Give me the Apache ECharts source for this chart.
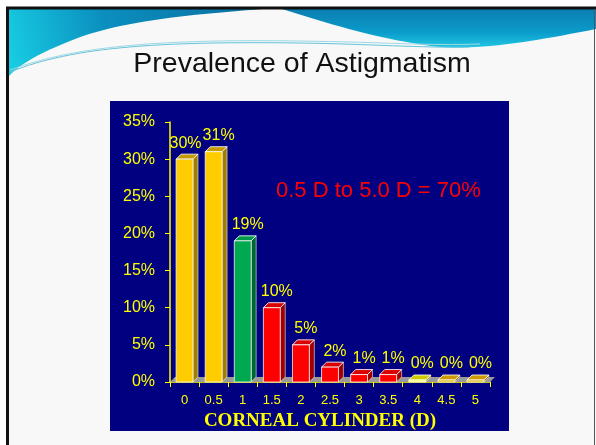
<!DOCTYPE html>
<html>
<head>
<meta charset="utf-8">
<title>Prevalence of Astigmatism</title>
<script src="https://cdn.jsdelivr.net/npm/echarts@6/dist/echarts.min.js"></script>
<style>
  html, body { margin: 0; padding: 0; background: #ffffff; }
  #chart { width: 596px; height: 445px; }
</style>
</head>
<body>
<div id="chart"></div>
<script>
// Corneal cylinder (dioptres) and share of eyes in each step
const cylinders = ['0', '0.5', '1', '1.5', '2', '2.5', '3', '3.5', '4', '4.5', '5'];
const prevalence = [30, 31, 19, 10, 5, 2, 1, 1, 0, 0, 0];
const barGroup = ['yellow', 'yellow', 'green', 'red', 'red', 'red', 'red', 'red', 'lime', 'gold', 'gold'];
const yTicks = [0, 5, 10, 15, 20, 25, 30, 35];

// front / top / side shades for the 3D bars
const shades = {
  yellow: { front: '#FFCC00', top: '#C49C00', side: '#A07E00' },
  green:  { front: '#00A84F', top: '#00994A', side: '#006633' },
  red:    { front: '#FF0000', top: '#D80000', side: '#A00000' },
  lime:   { front: '#FFFF66', top: '#CCCC00', side: '#999900' },
  gold:   { front: '#E0B000', top: '#CC9900', side: '#996600' }
};

const DEPTH = 5;
const YELLOW = '#FFFF00';

// sample a cubic Bezier into a list of points
function bez(p0, p1, p2, p3, n) {
  const pts = [];
  for (let k = 0; k <= n; k++) {
    const t = k / n, u = 1 - t;
    pts.push([
      u * u * u * p0[0] + 3 * u * u * t * p1[0] + 3 * u * t * t * p2[0] + t * t * t * p3[0],
      u * u * u * p0[1] + 3 * u * u * t * p1[1] + 3 * u * t * t * p2[1] + t * t * t * p3[1]
    ]);
  }
  return pts;
}

const leftWave = [[9, 9], [262, 9]]
  .concat(bez([262, 9], [200, 14], [120, 20], [70, 41], 24))
  .concat(bez([70, 41], [40, 53], [20, 64], [9, 76], 12));
const rightWave = [[282, 9], [596, 9], [596, 29]]
  .concat(bez([596, 29], [540, 40], [485, 50], [440, 47], 20))
  .concat(bez([440, 47], [380, 40], [330, 24], [282, 9], 20));
const thinLineA = bez([10, 72], [70, 48], [150, 41], [300, 43], 30).concat(bez([300, 43], [370, 44], [420, 48], [470, 47], 16));
const thinLineB = bez([10, 70], [75, 46], [160, 39], [300, 41], 30).concat(bez([300, 41], [380, 42], [430, 46], [480, 44], 16));

const chart = echarts.init(document.getElementById('chart'), null, { renderer: 'canvas' });

function renderBar(params, api) {
  const i = params.dataIndex;
  const base = api.coord([i, 0]);
  const top = api.coord([i, api.value(1)]);
  const bw = api.size([1, 0])[0] * 0.58;
  const x0 = base[0] - bw / 2;
  const x1 = base[0] + bw / 2;
  const yB = base[1];
  const yT = Math.min(top[1], yB - 2);
  const c = shades[barGroup[i]];
  const dx = i === 0 ? 1 : 5;
  return {
    type: 'group',
    children: [
      { type: 'polygon', shape: { points: [[x1, yT], [x1 + DEPTH, yT - DEPTH], [x1 + DEPTH, yB - DEPTH], [x1, yB]] },
        style: { fill: c.side, stroke: 'rgba(255,255,255,0.55)', lineWidth: 1 } },
      { type: 'polygon', shape: { points: [[x0, yT], [x0 + DEPTH, yT - DEPTH], [x1 + DEPTH, yT - DEPTH], [x1, yT]] },
        style: { fill: c.top, stroke: 'rgba(255,255,255,0.85)', lineWidth: 1 } },
      { type: 'rect', shape: { x: x0, y: yT, width: bw, height: yB - yT },
        style: { fill: c.front, stroke: 'rgba(255,255,255,0.75)', lineWidth: 1 } },
      { type: 'text', x: base[0] + dx, y: yT - 16,
        style: { text: api.value(1) + '%', fill: YELLOW, fontSize: 16,
                 fontFamily: 'Liberation Sans, Arial, sans-serif', align: 'center', verticalAlign: 'middle' } }
    ]
  };
}

function renderFloor(params, api) {
  const cs = params.coordSys;
  const yB = cs.y + cs.height;
  return {
    type: 'polygon',
    shape: { points: [[cs.x, yB], [cs.x + DEPTH, yB - DEPTH], [cs.x + cs.width + DEPTH, yB - DEPTH], [cs.x + cs.width, yB]] },
    style: { fill: '#9A9A9A' }
  };
}

const option = {
  animation: false,
  backgroundColor: '#ffffff',
  graphic: [
    // slide background and frame
    { type: 'rect', left: 6, top: 7, shape: { width: 590, height: 440 }, style: { fill: '#F8F8F8' }, z: -10 },
    // header swooshes
    { type: 'polygon', z: -6, shape: { points: leftWave },
      style: { fill: new echarts.graphic.LinearGradient(1, 0, 0, 1, [
        { offset: 0, color: '#0A6FA0' }, { offset: 0.6, color: '#0B8FBF' }, { offset: 1, color: '#18CFE4' }]) } },
    { type: 'polygon', z: -6, shape: { points: rightWave },
      style: { fill: new echarts.graphic.LinearGradient(0, 0, 0, 1, [
        { offset: 0, color: '#0C7DB0' }, { offset: 0.6, color: '#0A9BCB' }, { offset: 1, color: '#22C6E2' }]) } },
    { type: 'polyline', z: -6, shape: { points: thinLineA }, style: { stroke: '#66C4D8', lineWidth: 1, fill: null } },
    { type: 'polyline', z: -6, shape: { points: thinLineB }, style: { stroke: '#9ED8E4', lineWidth: 1, fill: null } },
    { type: 'polyline', z: -5, shape: { points: [[7.5, 445], [7.5, 8], [596, 8]] }, style: { stroke: '#111111', lineWidth: 3, fill: null } },
    { type: 'line', z: -5, shape: { x1: 594.5, y1: 9, x2: 594.5, y2: 445 }, style: { stroke: '#555555', lineWidth: 1 } },
    // title
    { type: 'text', x: 302, y: 64, z: 5,
      style: { text: 'Prevalence of Astigmatism', fill: '#111111', fontSize: 28.5,
               fontFamily: 'Liberation Sans, Arial, sans-serif', align: 'center', verticalAlign: 'middle' } },
    // chart panel
    { type: 'rect', left: 110, top: 101, shape: { width: 399, height: 330 }, style: { fill: '#000080' }, z: -4 },
    // summary note
    { type: 'text', left: 276, top: 180, z: 5,
      style: { text: '0.5 D to 5.0 D = 70%', fill: '#FF0000', fontSize: 22,
               fontFamily: 'Liberation Sans, Arial, sans-serif' } },
    // axis title
    { type: 'text', x: 320, y: 421, z: 5,
      style: { text: 'CORNEAL CYLINDER (D)', fill: YELLOW, fontSize: 19, fontWeight: 'bold',
               fontFamily: 'Liberation Serif, Times New Roman, serif', align: 'center', verticalAlign: 'middle' } }
  ],
  grid: { left: 170, top: 122, width: 320, height: 260, containLabel: false },
  xAxis: {
    type: 'category',
    data: cylinders,
    boundaryGap: true,
    axisLine: { lineStyle: { color: YELLOW, width: 1.5 } },
    axisTick: { show: true, length: 5, inside: false, alignWithLabel: false, lineStyle: { color: YELLOW } },
    axisLabel: { color: YELLOW, fontSize: 13, margin: 12, fontFamily: 'Liberation Sans, Arial, sans-serif' },
    splitLine: { show: false }
  },
  yAxis: {
    type: 'value',
    min: yTicks[0],
    max: yTicks[yTicks.length - 1],
    interval: 5,
    axisLine: { show: true, lineStyle: { color: YELLOW, width: 1.5 } },
    axisTick: { show: true, length: 5, lineStyle: { color: YELLOW } },
    axisLabel: { color: YELLOW, fontSize: 16, margin: 15, formatter: '{value}%',
                 fontFamily: 'Liberation Sans, Arial, sans-serif' },
    splitLine: { show: false }
  },
  series: [
    { type: 'custom', renderItem: renderFloor, data: [[0, 0]], z: 1, silent: true },
    { type: 'custom', renderItem: renderBar, z: 2,
      data: prevalence.map((v, i) => [i, v]),
      encode: { x: 0, y: 1 } }
  ]
};

chart.setOption(option);
</script>
</body>
</html>
